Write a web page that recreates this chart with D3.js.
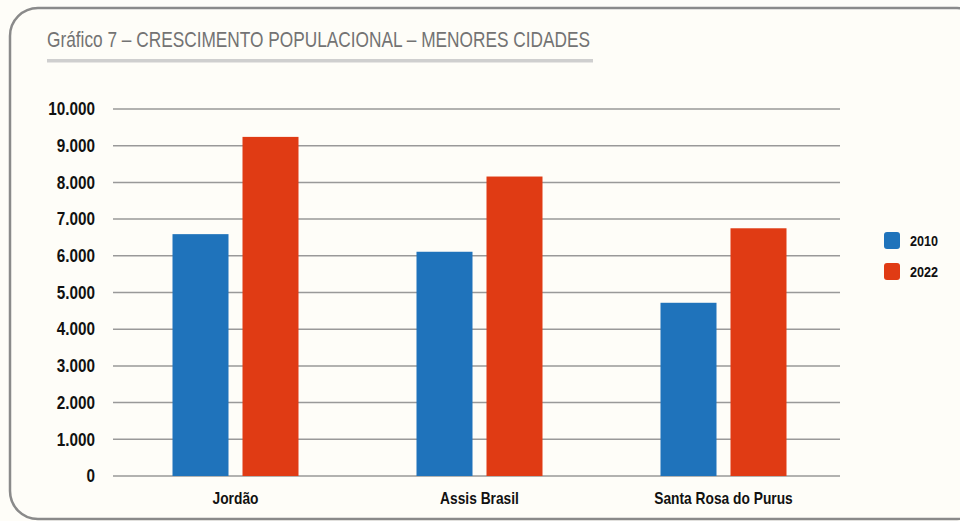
<!DOCTYPE html>
<html><head><meta charset="utf-8">
<script src="https://cdn.jsdelivr.net/npm/d3@7"></script>
<style>
html,body{margin:0;padding:0;background:#fefdf8;}
svg{display:block;}
</style></head>
<body>
<svg id="c" width="960" height="521"></svg>
<script>
const title = "Gráfico 7 – CRESCIMENTO POPULACIONAL – MENORES CIDADES";
const categories = ["Jordão", "Assis Brasil", "Santa Rosa do Purus"];
const seriesNames = ["2010", "2022"];
const values2010 = [6590, 6110, 4720];
const values2022 = [9240, 8160, 6750];
const yTicks = [0,1000,2000,3000,4000,5000,6000,7000,8000,9000,10000];
const colors = ["#1f73bb", "#e03b14"];

const font = "'Liberation Sans','Arial',sans-serif";
const svg = d3.select("#c");

function squeeze(sel, factor){
  sel.each(function(){
    const w = this.getComputedTextLength();
    d3.select(this).attr("textLength", w*factor).attr("lengthAdjust","spacingAndGlyphs");
  });
}

// frame
svg.append("rect").attr("x",10).attr("y",8).attr("width",975).attr("height",511)
  .attr("rx",28).attr("ry",28).attr("fill","#fefdf8").attr("stroke","#8a8a8a").attr("stroke-width",2.5);

// title
svg.append("text").attr("x",47).attr("y",47).text(title)
  .attr("font-family",font).attr("font-size",22.5).attr("fill","#737373")
  .attr("textLength",543).attr("lengthAdjust","spacingAndGlyphs");
svg.append("rect").attr("x",47).attr("y",59).attr("width",546).attr("height",3.5)
  .attr("fill","#cfcfcf");

const y = d3.scaleLinear().domain([0,10000]).range([476,109]);
const x = d3.scaleBand().domain(categories).range([113.5,845.5]).padding(0);
const fmt = d => d3.format(",")(d).replace(/,/g,".");

// gridlines
svg.append("g").selectAll("line").data(yTicks).join("line")
  .attr("x1",113).attr("x2",840).attr("y1",d=>y(d)).attr("y2",d=>y(d))
  .attr("stroke","#999").attr("stroke-width",1.5);

// y axis labels
const yAxis = d3.axisLeft(y).tickValues(yTicks).tickFormat(fmt).tickSize(0).tickPadding(0);
const ya = svg.append("g").attr("transform","translate(95,0)").call(yAxis);
ya.select(".domain").remove();
ya.selectAll("text").attr("font-family",font).attr("font-size",18).attr("font-weight","bold").attr("fill","#111");
squeeze(ya.selectAll("text"), 0.85);

// bars
const barW = 56, gap = 14;
const data = categories.map((c,i)=>({c, vals:[values2010[i], values2022[i]]}));
const g = svg.append("g");
data.forEach(d=>{
  const cx = x(d.c) + x.bandwidth()/2;
  d.vals.forEach((v,j)=>{
    const x0 = cx - (barW*2+gap)/2 + j*(barW+gap);
    g.append("rect").attr("x",x0).attr("y",y(v)).attr("width",barW).attr("height",y(0)-y(v))
      .attr("fill",colors[j]);
  });
});

// x axis labels
const xAxis = d3.axisBottom(x).tickSize(0).tickPadding(0);
const xa = svg.append("g").attr("transform","translate(0,504)").call(xAxis);
xa.select(".domain").remove();
xa.selectAll("text").attr("font-family",font).attr("font-size",17).attr("font-weight","bold").attr("fill","#111")
  .attr("y",0).attr("dy",0);
squeeze(xa.selectAll("text"), 0.81);

// legend
const lg = svg.append("g");
seriesNames.forEach((s,i)=>{
  lg.append("rect").attr("x",884).attr("y",232+i*31).attr("width",16).attr("height",17)
    .attr("rx",3).attr("fill",colors[i]);
  lg.append("text").attr("x",910).attr("y",241+i*31).attr("dy","0.35em").text(s)
    .attr("font-family",font).attr("font-size",15).attr("font-weight","bold").attr("fill","#111");
});
squeeze(lg.selectAll("text"), 0.84);
</script>
</body></html>
